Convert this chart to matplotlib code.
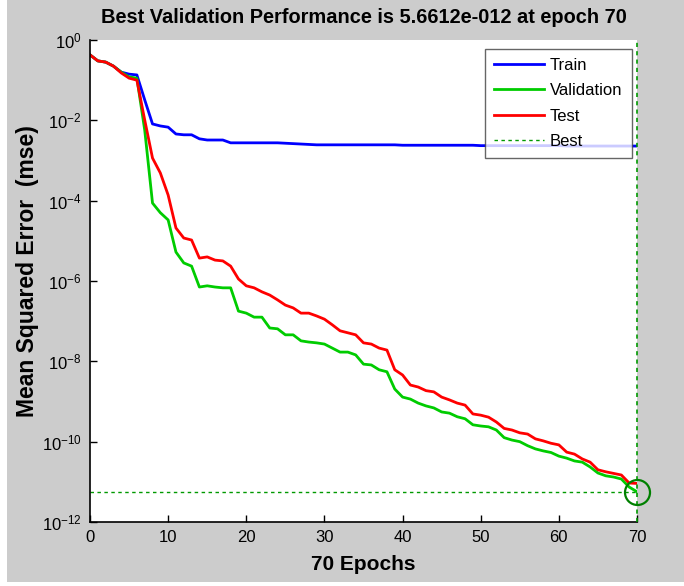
import numpy as np
import matplotlib
matplotlib.use("Agg")
import matplotlib.pyplot as plt
from matplotlib.patches import Rectangle

plt.rcParams['font.family'] = ['Liberation Sans', 'DejaVu Sans']
plt.rcParams['mathtext.fontset'] = 'custom'
plt.rcParams['mathtext.rm'] = 'Liberation Sans'
plt.rcParams['mathtext.it'] = 'Liberation Sans'

epochs = np.arange(0, 71)

train_log = [-0.37, -0.52, -0.55, -0.65, -0.80, -0.85, -0.87, -1.49, -2.09, -2.14,
             -2.17, -2.34, -2.36, -2.36, -2.46, -2.49, -2.49, -2.49, -2.56, -2.56,
             -2.56, -2.56, -2.56, -2.56, -2.56, -2.57, -2.58, -2.59, -2.60, -2.61,
             -2.61, -2.61, -2.61, -2.61, -2.61, -2.61, -2.61, -2.61, -2.61, -2.61,
             -2.62, -2.62, -2.62, -2.62, -2.62, -2.62, -2.62, -2.62, -2.62, -2.62,
             -2.63, -2.63, -2.63, -2.63, -2.63, -2.63, -2.63, -2.63, -2.63, -2.63,
             -2.63, -2.64, -2.64, -2.64, -2.64, -2.64, -2.64, -2.64, -2.64, -2.64,
             -2.64]

val_log = [-0.37, -0.52, -0.55, -0.65, -0.80, -0.92, -0.95, -2.24, -4.06, -4.30,
           -4.48, -5.28, -5.55, -5.63, -6.15, -6.12, -6.15, -6.17, -6.17, -6.75,
           -6.80, -6.90, -6.90, -7.17, -7.19, -7.34, -7.34, -7.49, -7.52, -7.54,
           -7.57, -7.67, -7.77, -7.77, -7.84, -8.07, -8.09, -8.21, -8.26, -8.69,
           -8.89, -8.94, -9.04, -9.11, -9.16, -9.26, -9.29, -9.38, -9.43, -9.58,
           -9.61, -9.63, -9.71, -9.90, -9.96, -10.00, -10.10, -10.18, -10.23, -10.27,
           -10.36, -10.41, -10.48, -10.51, -10.63, -10.78, -10.85, -10.88, -10.93, -11.13,
           -11.247]

test_log = [-0.37, -0.52, -0.55, -0.65, -0.82, -0.95, -1.00, -1.99, -2.94, -3.31,
            -3.86, -4.68, -4.93, -4.98, -5.43, -5.40, -5.48, -5.50, -5.63, -5.95,
            -6.12, -6.17, -6.27, -6.35, -6.47, -6.60, -6.67, -6.80, -6.80, -6.87,
            -6.95, -7.09, -7.24, -7.29, -7.34, -7.54, -7.57, -7.67, -7.72, -8.21,
            -8.34, -8.59, -8.64, -8.73, -8.76, -8.89, -8.96, -9.04, -9.09, -9.31,
            -9.34, -9.39, -9.51, -9.67, -9.71, -9.78, -9.81, -9.93, -9.98, -10.04,
            -10.08, -10.26, -10.31, -10.43, -10.51, -10.70, -10.75, -10.79, -10.83, -11.03,
            -11.04]

train = 10.0 ** np.array(train_log)
val = 10.0 ** np.array(val_log)
test = 10.0 ** np.array(test_log)

best_epoch = 70
best_perf = 5.6612e-12

ytick_vals = [1e0, 1e-2, 1e-4, 1e-6, 1e-8, 1e-10, 1e-12]
ytick_labels = [r'$10^{0}$', r'$10^{-2}$', r'$10^{-4}$', r'$10^{-6}$',
                r'$10^{-8}$', r'$10^{-10}$', r'$10^{-12}$']
xtick_vals = [0, 10, 20, 30, 40, 50, 60, 70]

fig = plt.figure(figsize=(6.84, 5.86), dpi=100, facecolor='#CCCCCC')
fig.patches.append(Rectangle((0, 0), 7 / 684, 1, transform=fig.transFigure,
                             facecolor='white', edgecolor='none', zorder=-1))
fig.patches.append(Rectangle((0, 0), 1, 4 / 586, transform=fig.transFigure,
                             facecolor='white', edgecolor='none', zorder=-1))

ax = fig.add_axes([90 / 684, 1 - 522 / 586, 547 / 684, 482 / 586])
ax.set_facecolor('white')

ax.semilogy(epochs, train, color='#0000FF', lw=2.0, label='Train')
ax.semilogy(epochs, val, color='#00CC00', lw=2.0, label='Validation')
ax.semilogy(epochs, test, color='#FF0000', lw=2.0, label='Test')
ax.plot([0, best_epoch], [best_perf, best_perf], color='#009900', lw=1.0,
        ls=(0, (2.5, 2.5)), label='Best')
ax.plot([best_epoch, best_epoch], [1e-12, 1e0], color='#009900', lw=1.2,
        ls=(0, (2.5, 2.5)), clip_on=False, zorder=5)
ax.plot([best_epoch], [best_perf], 'o', ms=18, mfc='none', mec='#008000',
        mew=1.6, clip_on=False, zorder=6)

ax.set_xlim(0, 70)
ax.set_ylim(1e-12, 1e0)
ax.set_xticks(xtick_vals)
ax.set_xticklabels([str(v) for v in xtick_vals])
ax.set_yticks(ytick_vals)
ax.set_yticklabels(ytick_labels)
ax.yaxis.set_minor_locator(matplotlib.ticker.NullLocator())
ax.tick_params(axis='both', direction='in', length=5, width=1, labelsize=12,
               colors='black')
ax.tick_params(axis='x', pad=6)
ax.tick_params(axis='y', pad=6)
ax.spines['top'].set_visible(False)
ax.spines['right'].set_visible(False)
ax.spines['left'].set_linewidth(1.2)
ax.spines['bottom'].set_linewidth(1.2)

ax.set_title('Best Validation Performance is 5.6612e-012 at epoch 70',
             fontsize=14.4, fontweight='bold', pad=12)
ax.set_xlabel('70 Epochs', fontsize=15, fontweight='bold', labelpad=7)
ax.set_ylabel('Mean Squared Error  (mse)', fontsize=16.5, fontweight='bold')
ax.yaxis.set_label_coords(-0.093, 0.52)

leg = ax.legend(loc='upper right', bbox_to_anchor=(0.99, 0.982), fontsize=12,
                frameon=True, fancybox=False, edgecolor='#404040',
                handlelength=3.0, handletextpad=0.35, labelspacing=0.62,
                borderpad=0.55, borderaxespad=0.0)
leg.get_frame().set_linewidth(1.0)

fig.savefig('out.png', dpi=100, facecolor=fig.get_facecolor())
